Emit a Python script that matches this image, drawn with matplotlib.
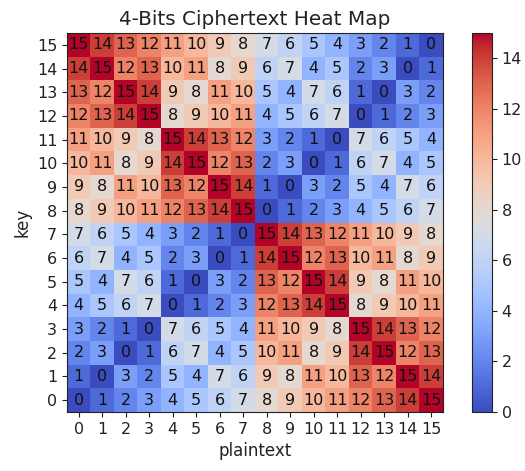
import matplotlib
matplotlib.use('Agg')
import matplotlib.pyplot as plt
import numpy as np

plaintext = list(range(16))
keys = list(range(16))
# ciphertext per key (row 0 = key 0)
cipher = np.array([
    [0, 1, 2, 3, 4, 5, 6, 7, 8, 9, 10, 11, 12, 13, 14, 15],
    [1, 0, 3, 2, 5, 4, 7, 6, 9, 8, 11, 10, 13, 12, 15, 14],
    [2, 3, 0, 1, 6, 7, 4, 5, 10, 11, 8, 9, 14, 15, 12, 13],
    [3, 2, 1, 0, 7, 6, 5, 4, 11, 10, 9, 8, 15, 14, 13, 12],
    [4, 5, 6, 7, 0, 1, 2, 3, 12, 13, 14, 15, 8, 9, 10, 11],
    [5, 4, 7, 6, 1, 0, 3, 2, 13, 12, 15, 14, 9, 8, 11, 10],
    [6, 7, 4, 5, 2, 3, 0, 1, 14, 15, 12, 13, 10, 11, 8, 9],
    [7, 6, 5, 4, 3, 2, 1, 0, 15, 14, 13, 12, 11, 10, 9, 8],
    [8, 9, 10, 11, 12, 13, 14, 15, 0, 1, 2, 3, 4, 5, 6, 7],
    [9, 8, 11, 10, 13, 12, 15, 14, 1, 0, 3, 2, 5, 4, 7, 6],
    [10, 11, 8, 9, 14, 15, 12, 13, 2, 3, 0, 1, 6, 7, 4, 5],
    [11, 10, 9, 8, 15, 14, 13, 12, 3, 2, 1, 0, 7, 6, 5, 4],
    [12, 13, 14, 15, 8, 9, 10, 11, 4, 5, 6, 7, 0, 1, 2, 3],
    [13, 12, 15, 14, 9, 8, 11, 10, 5, 4, 7, 6, 1, 0, 3, 2],
    [14, 15, 12, 13, 10, 11, 8, 9, 6, 7, 4, 5, 2, 3, 0, 1],
    [15, 14, 13, 12, 11, 10, 9, 8, 7, 6, 5, 4, 3, 2, 1, 0],
])

txt = '#222222'
plt.rcParams['text.color'] = txt
plt.rcParams['axes.labelcolor'] = txt
plt.rcParams['xtick.color'] = txt
plt.rcParams['ytick.color'] = txt
plt.rcParams['axes.edgecolor'] = txt

fig = plt.figure(figsize=(5.25, 4.71), dpi=100)
ax = fig.add_axes([67/525, 59/471, 376/525, 379/471])
cax = fig.add_axes([472/525, 59/471, 20/525, 379/471])

im = ax.imshow(cipher, cmap='coolwarm', origin='lower', aspect='auto')
for i in range(len(keys)):
    for j in range(len(plaintext)):
        ax.text(j, i, str(cipher[i, j]), ha='center', va='center', color='#111111', fontsize=11.5)

ax.set_xticks(range(16))
ax.set_xticklabels(plaintext)
ax.set_yticks(range(16))
ax.set_yticklabels(keys)
ax.tick_params(labelsize=11.5)
ax.set_xlabel('plaintext', fontsize=12)
ax.set_ylabel('key', fontsize=12)
ax.set_title('4-Bits Ciphertext Heat Map', fontsize=14.4)

cb = fig.colorbar(im, cax=cax)
cb.set_ticks(range(0, 15, 2))
cb.ax.tick_params(labelsize=11.5)

fig.savefig('out.png', dpi=100)
